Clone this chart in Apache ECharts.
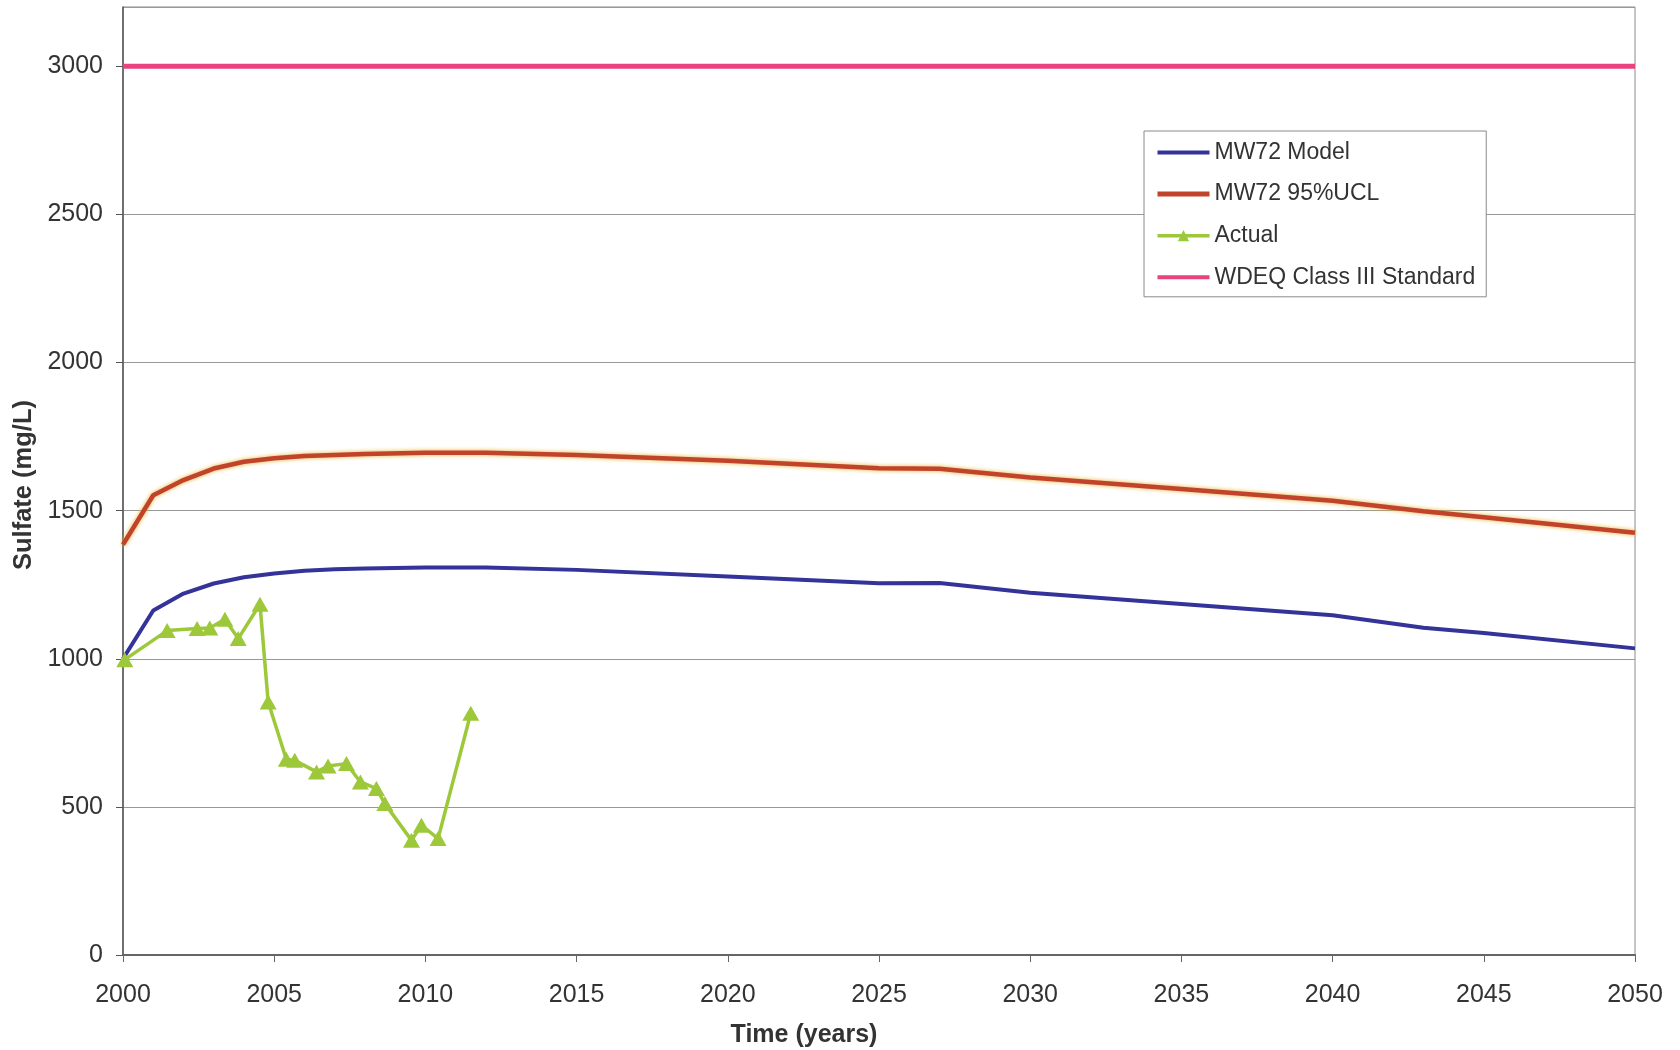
<!DOCTYPE html>
<html>
<head>
<meta charset="utf-8">
<script src="https://cdn.jsdelivr.net/npm/echarts@6/dist/echarts.min.js"></script>
<style>
html,body{margin:0;padding:0;background:#fff;}
#chart{width:1680px;height:1050px;}
</style>
</head>
<body>
<div id="chart"></div>
<script>
// Model years and values
const modelYears = [2000,2001,2002,2003,2004,2005,2006,2007,2008,2010,2012,2015,2020,2025,2027,2030,2035,2040,2043,2045,2050];
const modelValues = [1000,1163,1220,1254,1275,1288,1297,1302,1305,1308,1308,1300,1278,1255,1256,1223,1185,1147,1105,1087,1035];
const uclValues   = [1385,1552,1603,1642,1665,1677,1684,1688,1691,1695,1695,1688,1668,1643,1641,1612,1573,1533,1498,1478,1425];
// Actual measurements
const actualYears  = [2000.06,2001.46,2002.45,2002.87,2003.37,2003.81,2004.53,2004.80,2005.40,2005.68,2006.40,2006.78,2007.39,2007.85,2008.38,2008.66,2009.54,2009.87,2010.42,2011.50];
const actualValues = [997,1095,1102,1104,1133,1068,1184,854,661,657,618,638,646,584,562,511,387,438,393,816];
// Standard
const standardYears = [2000,2050];
const standardValues = [3000,3000];
const seriesNames = ['MW72 Model','MW72 95%UCL','Actual','WDEQ Class III Standard'];
const xAxisTitle = 'Time (years)';
const yAxisTitle = 'Sulfate (mg/L)';

const pair = (xs, ys) => xs.map((x, i) => [x, ys[i]]);
const font = 'Liberation Sans, Arial, sans-serif';
const blue = '#333399', red = '#c2432c', green = '#9cc83a', pink = '#e8437f';

const chart = echarts.init(document.getElementById('chart'), null, {renderer: 'canvas'});
chart.setOption({
  animation: false,
  backgroundColor: '#fff',
  grid: {left: 123, right: 45, top: 7, bottom: 95, containLabel: false, outerBoundsMode: 'none',
         show: true, borderColor: '#8a8a8a', borderWidth: 1, backgroundColor: '#fff'},
  legend: {
    data: [
      {name: seriesNames[0], itemStyle: {opacity: 0}, lineStyle: {width: 4}},
      {name: seriesNames[1], itemStyle: {opacity: 0}, lineStyle: {width: 5}},
      {name: seriesNames[2], lineStyle: {width: 3.5}},
      {name: seriesNames[3], itemStyle: {opacity: 0}, lineStyle: {width: 4}}
    ],
    orient: 'vertical',
    left: 1144, top: 131,
    padding: [10, 11, 8, 11],
    itemWidth: 52, itemHeight: 14, itemGap: 18.6,
    borderColor: '#8a8a8a', borderWidth: 1, backgroundColor: '#fff',
    textStyle: {fontFamily: font, fontSize: 23, color: '#333'}
  },
  xAxis: {
    type: 'value', min: 2000, max: 2050, interval: 5,
    name: xAxisTitle, nameLocation: 'middle', nameGap: 67.5,
    nameTextStyle: {fontFamily: font, fontSize: 25, fontWeight: 'bold', color: '#333', padding: [0, 150, 0, 0]},
    axisLine: {show: true, lineStyle: {color: '#666', width: 2}},
    axisTick: {show: true, length: 7, lineStyle: {color: '#666'}},
    axisLabel: {fontFamily: font, fontSize: 25, color: '#333', margin: 28, formatter: v => String(v)},
    splitLine: {show: false}
  },
  yAxis: {
    type: 'value', min: 0, max: 3200, interval: 500,
    name: yAxisTitle, nameLocation: 'middle', nameGap: 81, nameRotate: 90,
    nameTextStyle: {fontFamily: font, fontSize: 25.5, fontWeight: 'bold', color: '#333', padding: [0, 8, 0, 0]},
    axisLine: {show: true, lineStyle: {color: '#555', width: 1.5}},
    axisTick: {show: true, length: 7, lineStyle: {color: '#555'}},
    axisLabel: {fontFamily: font, fontSize: 25, color: '#333', margin: 20, showMaxLabel: false, formatter: v => String(v)},
    splitLine: {show: true, lineStyle: {color: '#999', width: 1}}
  },
  series: [
    {
      name: seriesNames[0], type: 'line', data: pair(modelYears, modelValues),
      symbol: 'none', lineStyle: {color: blue, width: 4}, itemStyle: {color: blue}, z: 3
    },
    {
      name: seriesNames[1], type: 'line', data: pair(modelYears, uclValues),
      symbol: 'none',
      lineStyle: {color: red, width: 4.5, shadowColor: 'rgba(230,180,50,1)', shadowBlur: 4},
      itemStyle: {color: red}, z: 3
    },
    {
      name: seriesNames[2], type: 'line', data: pair(actualYears, actualValues),
      symbol: 'triangle', symbolSize: [17, 15],
      lineStyle: {color: green, width: 3.5}, itemStyle: {color: green}, z: 4
    },
    {
      name: seriesNames[3], type: 'line', data: pair(standardYears, standardValues),
      symbol: 'none', lineStyle: {color: pink, width: 5}, itemStyle: {color: pink}, z: 3
    }
  ]
});
</script>
</body>
</html>
